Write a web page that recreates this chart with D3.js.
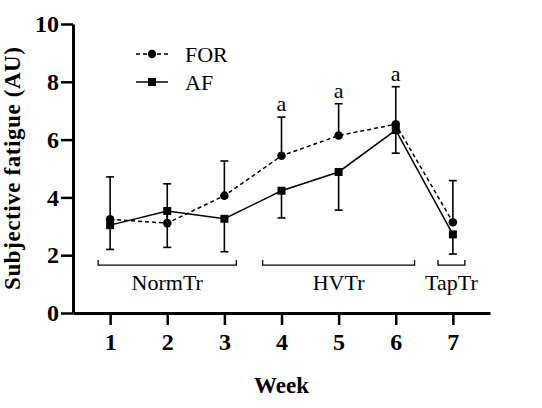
<!DOCTYPE html>
<html>
<head>
<meta charset="utf-8">
<script src="https://cdn.jsdelivr.net/npm/d3@7"></script>
<style>
  body { margin: 0; background: #fff; }
  svg { display: block; }
</style>
</head>
<body>
<svg width="542" height="408"></svg>
<script>
// data (mean and SD per week)
const weeks = [1, 2, 3, 4, 5, 6, 7];
const forMean = [3.24, 3.11, 4.06, 5.44, 6.14, 6.53, 3.14];
const forSd = [1.47, 1.36, 1.20, 1.34, 1.10, 1.30, 1.44];
const afMean = [3.04, 3.53, 3.26, 4.23, 4.88, 6.33, 2.72];
const afSd = [0.84, 1.26, 1.14, 0.94, 1.32, 0.80, 0.68];
const sigWeeks = [4, 5, 6];
const yTicks = [0, 2, 4, 6, 8, 10];
const phases = [
  { name: "NormTr", from: 0.79, to: 3.21 },
  { name: "HVTr", from: 3.67, to: 6.33 },
  { name: "TapTr", from: 6.74, to: 7.21 }
];

const serif = "'Liberation Serif', 'Times New Roman', serif";
const svg = d3.select("svg");

const x = d3.scaleLinear().domain([0.35, 7.65]).range([73, 490]);
const y = d3.scaleLinear().domain([0, 10]).range([313, 24]);

// axes
const xAxis = svg.append("g")
  .attr("transform", `translate(0, ${y(0)})`)
  .call(d3.axisBottom(x).tickValues(weeks).tickSize(12).tickSizeOuter(0).tickPadding(8));
const yAxis = svg.append("g")
  .attr("transform", `translate(${x(0.35)}, 0)`)
  .call(d3.axisLeft(y).tickValues(yTicks).tickSize(12).tickSizeOuter(0).tickPadding(2));

[xAxis, yAxis].forEach(g => {
  g.select(".domain").attr("stroke", "#000").attr("stroke-width", 3);
  g.selectAll(".tick line").attr("stroke", "#000").attr("stroke-width", 2.5);
  g.selectAll(".tick text")
    .attr("fill", "#000")
    .style("font-family", serif)
    .style("font-size", "24px")
    .style("font-weight", "bold");
});

// axis titles
svg.append("text")
  .attr("x", (x(0.35) + x(7.65)) / 2)
  .attr("y", 393)
  .attr("text-anchor", "middle")
  .style("font-family", serif)
  .style("font-size", "23px")
  .style("font-weight", "bold")
  .text("Week");

svg.append("text")
  .attr("transform", `translate(20, ${(y(0) + y(10)) / 2}) rotate(-90)`)
  .attr("text-anchor", "middle")
  .attr("textLength", 243)
  .attr("lengthAdjust", "spacing")
  .style("font-family", serif)
  .style("font-size", "23px")
  .style("font-weight", "bold")
  .text("Subjective fatigue (AU)");

// training phase brackets
const brY = y(1.66);
phases.forEach(p => {
  svg.append("path")
    .attr("d", `M${x(p.from)},${brY - 5}V${brY}H${x(p.to)}V${brY - 5}`)
    .attr("fill", "none")
    .attr("stroke", "#000")
    .attr("stroke-width", 1.3);
  svg.append("text")
    .attr("x", (x(p.from) + x(p.to)) / 2)
    .attr("y", brY + 25)
    .attr("text-anchor", "middle")
    .style("font-family", serif)
    .style("font-size", "22px")
    .text(p.name);
});

// error bars: FOR upward, AF downward
function errorBars(means, sds, dir) {
  weeks.forEach((w, i) => {
    const y0 = y(means[i]);
    const y1 = y(means[i] + dir * sds[i]);
    const cx = x(w);
    svg.append("line")
      .attr("x1", cx).attr("x2", cx).attr("y1", y0).attr("y2", y1)
      .attr("stroke", "#000").attr("stroke-width", 1.6);
    svg.append("line")
      .attr("x1", cx - 4).attr("x2", cx + 4).attr("y1", y1).attr("y2", y1)
      .attr("stroke", "#000").attr("stroke-width", 1.6);
  });
}
errorBars(forMean, forSd, 1);
errorBars(afMean, afSd, -1);

// lines
const line = d3.line().x((d, i) => x(weeks[i])).y(d => y(d));
svg.append("path")
  .datum(afMean)
  .attr("d", line)
  .attr("fill", "none")
  .attr("stroke", "#000")
  .attr("stroke-width", 1.5);
svg.append("path")
  .datum(forMean)
  .attr("d", line)
  .attr("fill", "none")
  .attr("stroke", "#000")
  .attr("stroke-width", 1.5)
  .attr("stroke-dasharray", "4,3");

// markers
svg.selectAll(".afpt").data(afMean).enter().append("rect")
  .attr("x", (d, i) => x(weeks[i]) - 4)
  .attr("y", d => y(d) - 4)
  .attr("width", 8).attr("height", 8)
  .attr("fill", "#000");
svg.selectAll(".forpt").data(forMean).enter().append("circle")
  .attr("cx", (d, i) => x(weeks[i]))
  .attr("cy", d => y(d))
  .attr("r", 4.3)
  .attr("fill", "#000");

// significance letters
sigWeeks.forEach(w => {
  const i = weeks.indexOf(w);
  svg.append("text")
    .attr("x", x(w))
    .attr("y", y(forMean[i] + forSd[i]) - 6)
    .attr("text-anchor", "middle")
    .style("font-family", serif)
    .style("font-size", "22px")
    .text("a");
});

// legend
const legend = [
  { name: "FOR", dash: "4,3", shape: "circle", yPos: 54 },
  { name: "AF", dash: null, shape: "square", yPos: 82 }
];
legend.forEach(l => {
  svg.append("line")
    .attr("x1", 136).attr("x2", 168).attr("y1", l.yPos).attr("y2", l.yPos)
    .attr("stroke", "#000").attr("stroke-width", 1.5)
    .attr("stroke-dasharray", l.dash);
  if (l.shape === "circle") {
    svg.append("circle").attr("cx", 152).attr("cy", l.yPos).attr("r", 4.2).attr("fill", "#000");
  } else {
    svg.append("rect").attr("x", 148).attr("y", l.yPos - 4).attr("width", 8).attr("height", 8).attr("fill", "#000");
  }
  svg.append("text")
    .attr("x", 185)
    .attr("y", l.yPos + 8)
    .style("font-family", serif)
    .style("font-size", "22px")
    .text(l.name);
});

// caption, cut off at the bottom edge as in the source
svg.append("text")
  .attr("x", 8)
  .attr("y", 420)
  .attr("fill", "#c8c8c8")
  .style("font-family", serif)
  .style("font-size", "16px")
  .style("font-weight", "bold")
  .text("FIGURE 1 | Subjective fatigue ratings (mean ± SD) in FOR and AF groups.");
</script>
</body>
</html>
